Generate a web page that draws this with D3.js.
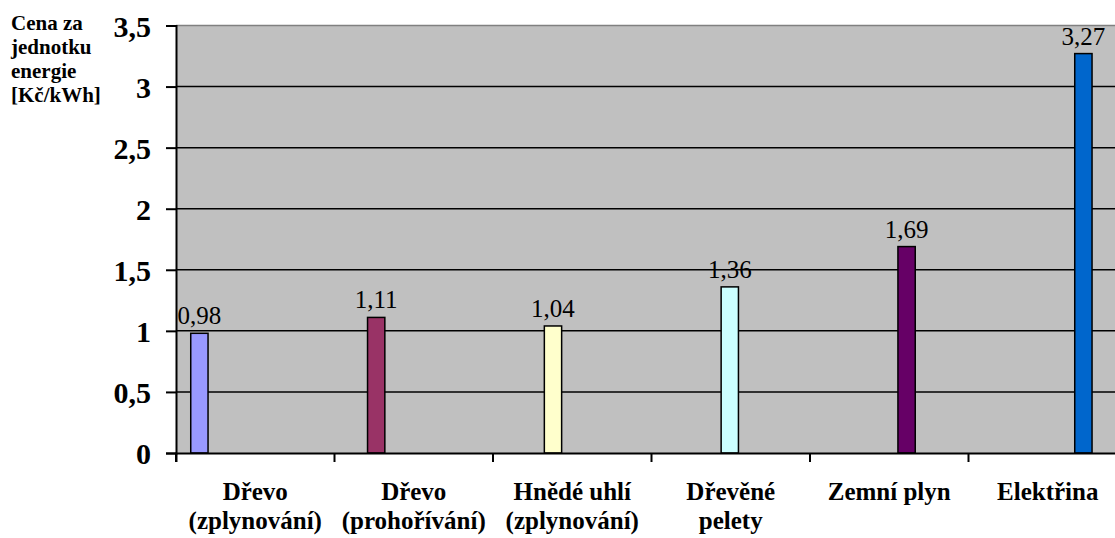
<!DOCTYPE html>
<html>
<head>
<meta charset="utf-8">
<script src="https://cdn.jsdelivr.net/npm/d3@7"></script>
<style>
  html, body { margin: 0; padding: 0; background: #fff; }
  svg { display: block; }
</style>
</head>
<body>
<svg id="chart" width="1115" height="538"></svg>
<script>
// ---- data ----
const categories = ["Dřevo (zplynování)", "Dřevo (prohořívání)", "Hnědé uhlí (zplynování)", "Dřevěné pelety", "Zemní plyn", "Elektřina"];
const categoryLines = [["Dřevo", "(zplynování)"], ["Dřevo", "(prohořívání)"], ["Hnědé uhlí", "(zplynování)"], ["Dřevěné", "pelety"], ["Zemní plyn"], ["Elektřina"]];
const values = [0.98, 1.11, 1.04, 1.36, 1.69, 3.27];
const colors = ["#9999FF", "#993366", "#FFFFCC", "#CCFFFF", "#660066", "#0066CC"];
const yTicks = [0, 0.5, 1, 1.5, 2, 2.5, 3, 3.5];
const yTitleLines = ["Cena za", "jednotku", "energie", "[Kč/kWh]"];

// ---- layout ----
const FONT = "'Liberation Serif', 'Times New Roman', Times, serif";
const plotLeft = 176, plotTop = 25.5, plotBottom = 453, bandW = 158.5;
const plotRight = plotLeft + categories.length * bandW;
const fmt = v => String(v).replace(".", ",");

const svg = d3.select("#chart");

const x0 = d3.scaleBand().domain(categories).range([plotLeft, plotRight]).padding(0);
const x1 = d3.scaleBand().domain(d3.range(categories.length))
  .range([x0.bandwidth() * 0.093, x0.bandwidth() * 0.093 + categories.length * 18.3]).padding(0);
const y = d3.scaleLinear().domain([0, 3.5]).range([plotBottom, plotTop]);

// plot background
svg.append("rect")
  .attr("x", plotLeft).attr("y", plotTop)
  .attr("width", plotRight - plotLeft).attr("height", plotBottom - plotTop)
  .attr("fill", "#C0C0C0").attr("stroke", "none");

// gridlines
svg.append("g").selectAll("line").data(yTicks.filter(t => t > 0)).join("line")
  .attr("x1", plotLeft).attr("x2", plotRight)
  .attr("y1", d => y(d)).attr("y2", d => y(d))
  .attr("stroke", d => d === 3.5 ? "#808080" : "#000").attr("stroke-width", 1.5);

// bars
svg.append("g").selectAll("rect").data(values).join("rect")
  .attr("x", (d, i) => x0(categories[i]) + x1(i))
  .attr("y", d => y(d))
  .attr("width", x1.bandwidth() - 1)
  .attr("height", d => plotBottom - y(d))
  .attr("fill", (d, i) => colors[i])
  .attr("stroke", "#000").attr("stroke-width", 1.5);

// data labels
svg.append("g").selectAll("text").data(values).join("text")
  .attr("x", (d, i) => x0(categories[i]) + x1(i) + (x1.bandwidth() - 1) / 2)
  .attr("y", d => y(d) - 9)
  .attr("text-anchor", "middle")
  .style("font-family", FONT)
  .style("font-size", "25px")
  .attr("fill", "#000")
  .text(d => fmt(d));

// y axis
const yAxis = d3.axisLeft(y).tickValues(yTicks).tickSize(10).tickFormat(fmt).tickPadding(15);
const gy = svg.append("g").attr("transform", `translate(${plotLeft},0)`).call(yAxis);
gy.attr("font-family", null);
gy.select(".domain").attr("stroke", "#000").attr("stroke-width", 2);
gy.selectAll(".tick line").attr("stroke", "#000").attr("stroke-width", 2);
gy.selectAll(".tick text")
  .style("font-family", FONT)
  .style("font-size", "30px").style("font-weight", "bold").attr("fill", "#000")
  .attr("dy", "0.36em");

// x axis
const xAxis = d3.axisBottom(x0).tickSize(9).tickFormat("");
const gx = svg.append("g").attr("transform", `translate(0,${plotBottom})`).call(xAxis);
gx.selectAll(".tick").remove();
gx.select(".domain").attr("stroke", "#000").attr("stroke-width", 2);
// category boundary ticks
const bounds = d3.range(categories.length + 1).map(i => i === categories.length ? plotRight : x0(categories[i]));
gx.append("g").selectAll("line").data(bounds).join("line")
  .attr("x1", d => d).attr("x2", d => d).attr("y1", 0).attr("y2", 9)
  .attr("stroke", "#000").attr("stroke-width", 2);

// category labels
const lab = svg.append("g").selectAll("text").data(categories).join("text")
  .attr("x", d => x0(d) + x0.bandwidth() / 2)
  .attr("y", 500)
  .attr("text-anchor", "middle")
  .style("font-family", FONT)
  .style("font-size", "25px").style("font-weight", "bold")
  .attr("fill", "#000");
lab.selectAll("tspan").data((d, i) => categoryLines[i]).join("tspan")
  .attr("x", function () { return d3.select(this.parentNode).attr("x"); })
  .attr("dy", (d, j) => j === 0 ? 0 : 29)
  .text(d => d);

// y title
svg.append("g").selectAll("text").data(yTitleLines).join("text")
  .attr("x", 11).attr("y", (d, i) => 30 + i * 24)
  .style("font-family", FONT)
  .style("font-size", "21px").style("font-weight", "bold")
  .attr("fill", "#000")
  .text(d => d);
</script>
</body>
</html>
